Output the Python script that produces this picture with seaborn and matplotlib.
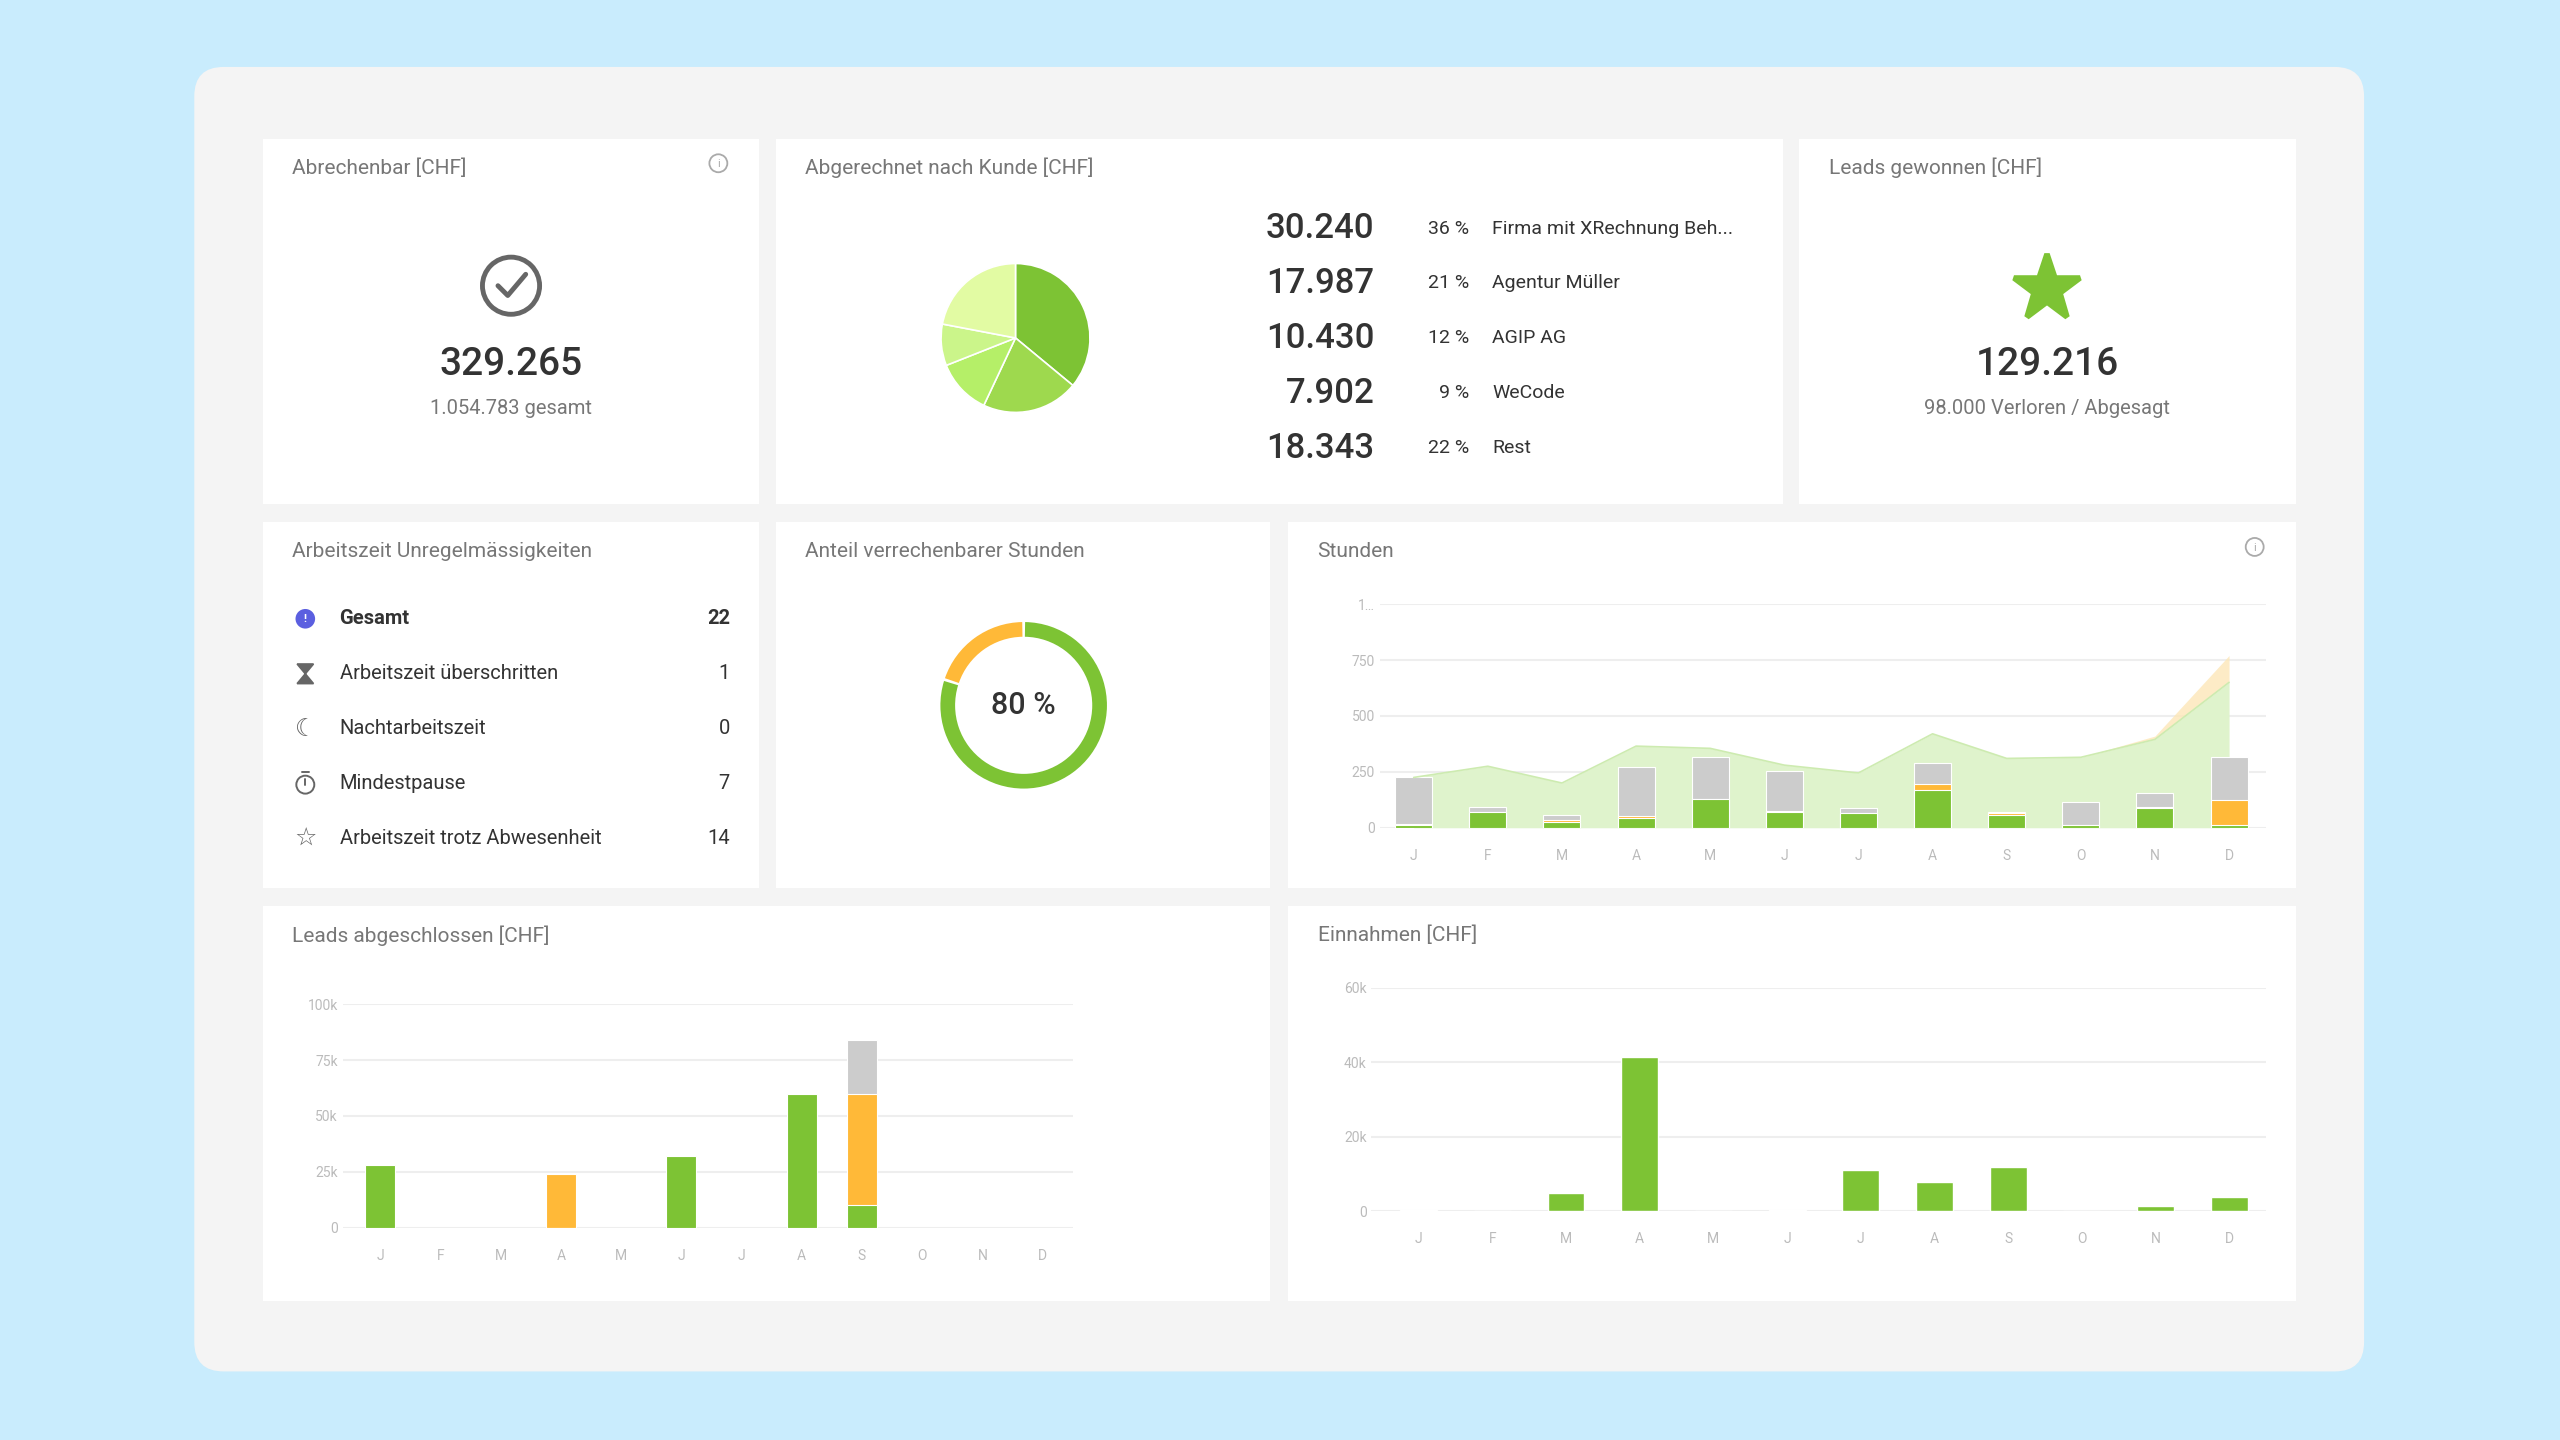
import numpy as np
import matplotlib
matplotlib.use("Agg")
import matplotlib.pyplot as plt
from matplotlib.patches import FancyBboxPatch, Rectangle, Circle, Wedge, Polygon
import seaborn as sns

sns.set_style("white")
plt.rcParams['font.family'] = ['Roboto', 'DejaVu Sans']

# ---- data ----
monate = ['J', 'F', 'M', 'A', 'M', 'J', 'J', 'A', 'S', 'O', 'N', 'D']

kunden = ['Firma mit XRechnung Beh...', 'Agentur Müller', 'AGIP AG', 'WeCode', 'Rest']
kunden_betrag = ['30.240', '17.987', '10.430', '7.902', '18.343']
kunden_anteil = [36, 21, 12, 9, 22]

unregel_namen = ['Gesamt', 'Arbeitszeit überschritten', 'Nachtarbeitszeit', 'Mindestpause', 'Arbeitszeit trotz Abwesenheit']
unregel_werte = [22, 1, 0, 7, 14]

anteil_stunden = 80

stunden_gruen = [12, 72, 25, 42, 130, 72, 65, 170, 55, 12, 88, 12]
stunden_orange = [5, 0, 8, 12, 0, 5, 0, 25, 10, 0, 5, 110]
stunden_gesamt = [225, 95, 55, 270, 318, 252, 88, 288, 70, 113, 155, 318]
stunden_flaeche = [225, 275, 200, 365, 355, 280, 245, 420, 310, 315, 395, 650]
stunden_flaeche_oben = [225, 275, 200, 365, 355, 280, 245, 420, 310, 315, 410, 770]

leads_gruen = [28, 0, 0, 0, 0, 32, 0, 60, 10, 0, 0, 0]
leads_orange = [0, 0, 0, 24, 0, 0, 0, 0, 50, 0, 0, 0]
leads_grau = [0, 0, 0, 0, 0, 0, 0, 0, 24, 0, 0, 0]

einnahmen = [0.5, 0, 5, 41.5, 0, 0.5, 11, 8, 12, 0, 1.5, 4]

GRUEN = '#7dc334'
ORANGE = '#ffb938'
GRAU = '#cccccc'
TXT = '#333333'
TITEL = '#777777'
TICK = '#bbbbbb'
ICON = '#666666'

W, H = 1568, 882
fig = plt.figure(figsize=(25.6, 14.4), dpi=100)
fig.patch.set_facecolor('#c9ecfd')
bg = fig.add_axes([0, 0, 1, 1])
bg.set_xlim(0, W)
bg.set_ylim(H, 0)
bg.axis('off')

bg.add_patch(FancyBboxPatch((119, 41), 1329, 799, boxstyle="round,pad=0,rounding_size=18",
                            fc='#f4f4f4', ec='none'))

panels = {
    'p1': (161, 85, 465, 309), 'p2': (475, 85, 1092, 309), 'p3': (1102, 85, 1406, 309),
    'p4': (161, 320, 465, 544), 'p5': (475, 320, 778, 544), 'p6': (789, 320, 1406, 544),
    'p7': (161, 555, 778, 797), 'p8': (789, 555, 1406, 797),
}
titles = {'p1': 'Abrechenbar [CHF]', 'p2': 'Abgerechnet nach Kunde [CHF]', 'p3': 'Leads gewonnen [CHF]',
          'p4': 'Arbeitszeit Unregelmässigkeiten', 'p5': 'Anteil verrechenbarer Stunden', 'p6': 'Stunden',
          'p7': 'Leads abgeschlossen [CHF]', 'p8': 'Einnahmen [CHF]'}
for k, (x0, y0, x1, y1) in panels.items():
    bg.add_patch(Rectangle((x0, y0), x1 - x0, y1 - y0, fc='white', ec='none'))
    bg.text(x0 + 18, y0 + 18, titles[k], fontsize=15, color=TITEL, va='center')


def info(x, y):
    bg.add_patch(Circle((x, y), 5.5, fc='none', ec='#aaaaaa', lw=1.3))
    bg.text(x, y + 0.5, 'i', fontsize=8, color='#aaaaaa', ha='center', va='center')


info(440, 100)
info(1381, 335)

# panel 1
bg.add_patch(Circle((313, 175), 17.5, fc='none', ec=ICON, lw=3.5))
bg.plot([305, 311, 322], [175, 181, 168], color=ICON, lw=3.5, solid_capstyle='round')
bg.text(313, 223, '329.265', fontsize=28, color=TXT, ha='center', va='center', fontweight='medium')
bg.text(313, 250, '1.054.783 gesamt', fontsize=14.5, color=TITEL, ha='center', va='center')

# panel 3
bg.plot([1254], [177], marker='*', markersize=50, color=GRUEN, mec=GRUEN, mew=4, mfc=GRUEN)
bg.text(1254, 223, '129.216', fontsize=28, color=TXT, ha='center', va='center', fontweight='medium')
bg.text(1254, 250, '98.000 Verloren / Abgesagt', fontsize=14.5, color=TITEL, ha='center', va='center')

# panel 2: pie + list
pie_ax = fig.add_axes([565 / W, 1 - 264 / H, 114 / W, 114 / H])
pie_farben = [GRUEN, '#9ed94e', '#b5ef68', '#cbf58a', '#e2fba3']
pie_ax.pie(kunden_anteil, colors=pie_farben, startangle=90, counterclock=False,
           wedgeprops=dict(ec='white', lw=1.2))
pie_ax.set_aspect('equal')
for i in range(len(kunden)):
    y = 140 + i * 33.6
    bg.text(842, y, kunden_betrag[i], fontsize=25, color=TXT, ha='right', va='center', fontweight='medium')
    bg.text(900, y, f'{kunden_anteil[i]} %', fontsize=14, color=TXT, ha='right', va='center')
    bg.text(914, y, kunden[i], fontsize=14, color=TXT, ha='left', va='center')

# panel 4: list
for i in range(len(unregel_namen)):
    y = 379 + i * 33.7
    if i == 0:
        bg.add_patch(Circle((187, y), 6, fc='#5b5fe0', ec='none'))
        bg.text(187, y, '!', fontsize=8, color='white', ha='center', va='center', fontweight='bold')
    elif i == 1:
        bg.add_patch(Polygon([(182, y - 6), (192, y - 6), (182, y + 6), (192, y + 6)],
                             closed=True, fc=ICON, ec=ICON, lw=1.2))
    elif i == 2:
        bg.text(187, y, '☾', fontsize=17, color=ICON, ha='center', va='center', family=['DejaVu Sans'])
    elif i == 3:
        bg.add_patch(Circle((187, y + 0.5), 5.5, fc='none', ec=ICON, lw=1.4))
        bg.plot([187, 187], [y + 0.5, y - 3], color=ICON, lw=1.4)
        bg.plot([185, 189], [y - 7, y - 7], color=ICON, lw=1.4)
    else:
        bg.text(187, y, '☆', fontsize=18, color=ICON, ha='center', va='center', family=['DejaVu Sans'])
    fw = 'bold' if i == 0 else 'normal'
    bg.text(208, y, unregel_namen[i], fontsize=14.5, color=TXT, va='center', fontweight=fw)
    bg.text(447, y, str(unregel_werte[i]), fontsize=14.5, color=TXT, va='center', ha='right', fontweight=fw)

# panel 5: donut (y axis inverted: top is -90, clockwise increases the angle)
gruen_grad = 360 * anteil_stunden / 100
bg.add_patch(Wedge((627, 432), 51, -90 + 1, -90 + gruen_grad - 1, width=9, fc=GRUEN, ec='none'))
bg.add_patch(Wedge((627, 432), 51, -90 + gruen_grad + 1, 270 - 1, width=9, fc=ORANGE, ec='none'))
bg.text(627, 432, f'{anteil_stunden} %', fontsize=22, color=TXT, ha='center', va='center', fontweight='medium')


def chart_ax(x0, y0, x1, y1):
    ax = fig.add_axes([x0 / W, 1 - y1 / H, (x1 - x0) / W, (y1 - y0) / H])
    ax.set_facecolor('none')
    sns.despine(ax=ax, left=True, bottom=True)
    ax.grid(axis='y', color='#eeeeee', lw=1.5)
    ax.set_axisbelow(True)
    ax.tick_params(axis='both', length=0, labelcolor=TICK, labelsize=10)
    ax.tick_params(axis='x', pad=15)
    return ax


x = np.arange(12)


def stacked(ax, schichten, farben):
    summe = np.zeros(12)
    totals = []
    for s in schichten:
        summe = summe + np.array(s, dtype=float)
        totals.append(summe.copy())
    for t, f in reversed(list(zip(totals, farben))):
        sns.barplot(x=x, y=t, color=f, width=0.5, ax=ax, saturation=1, edgecolor='white', linewidth=0.8)


# panel 6: Stunden
ax6 = chart_ax(845, 370, 1388, 507)
ax6.fill_between(x, stunden_flaeche, stunden_flaeche_oben, color='#fde7b8', alpha=0.8, lw=0)
ax6.fill_between(x, 0, stunden_flaeche, color='#dff3cc', lw=0)
ax6.plot(x, stunden_flaeche, color='#cdebb0', lw=1.2)
stacked(ax6, [stunden_gruen, stunden_orange,
              np.array(stunden_gesamt) - np.array(stunden_gruen) - np.array(stunden_orange)],
        [GRUEN, ORANGE, GRAU])
ax6.set_ylim(0, 1000)
ax6.set_yticks([0, 250, 500, 750, 1000], ['0', '250', '500', '750', '1…'])
ax6.set_xlim(-0.46, 11.5)
ax6.set_xticks(x, monate)

# panel 7: Leads
ax7 = chart_ax(210, 615, 657, 752)
stacked(ax7, [leads_gruen, leads_orange, leads_grau], [GRUEN, ORANGE, GRAU])
ax7.set_ylim(0, 100)
ax7.set_yticks([0, 25, 50, 75, 100], ['0', '25k', '50k', '75k', '100k'])
ax7.set_xlim(-0.62, 11.5)
ax7.set_xticks(x, monate)

# panel 8: Einnahmen
ax8 = chart_ax(840, 605, 1388, 742)
sns.barplot(x=x, y=einnahmen, color=GRUEN, width=0.5, ax=ax8, saturation=1)
ax8.set_ylim(0, 60)
ax8.set_yticks([0, 20, 40, 60], ['0', '20k', '40k', '60k'])
ax8.set_xlim(-0.64, 11.5)
ax8.set_xticks(x, monate)

for a in (ax6, ax7, ax8):
    a.set_xlabel('')
    a.set_ylabel('')

fig.savefig('out.png', dpi=100, facecolor=fig.get_facecolor())
